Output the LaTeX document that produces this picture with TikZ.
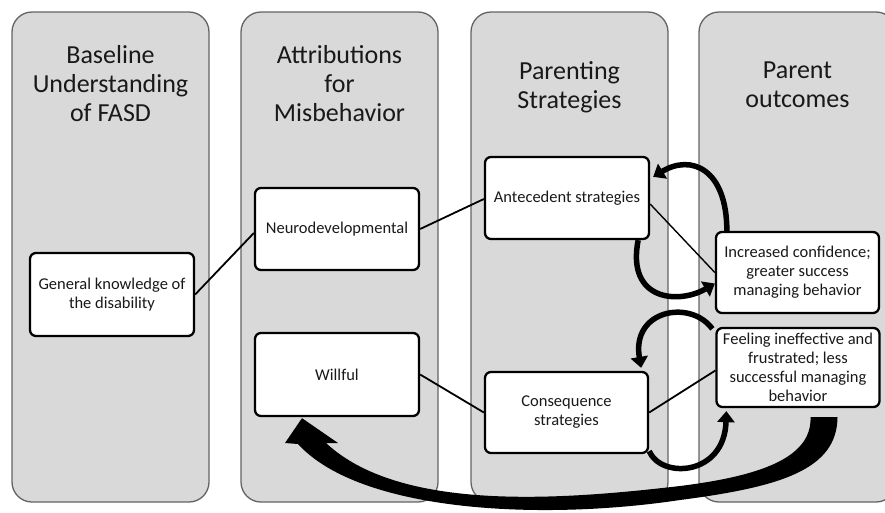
\documentclass[tikz,border=0pt]{standalone}
\usepackage{fontspec}
\setmainfont{Carlito}
\usetikzlibrary{calc,arrows.meta}
\definecolor{panelgray}{RGB}{217,217,217}
\definecolor{paneledge}{RGB}{100,100,100}
\definecolor{inkgray}{RGB}{25,25,25}

\begin{document}
\begin{tikzpicture}[x=1pt,y=-1pt,
  panel/.style={draw=paneledge, line width=1.3pt, fill=panelgray, rounded corners=20pt,
    minimum width=197pt, minimum height=490pt, inner sep=0pt},
  title/.style={font=\fontsize{26}{29}\selectfont, text=inkgray, align=center, inner sep=0pt},
  box/.style={draw=black, line width=2.3pt, fill=white, rounded corners=6pt,
    minimum width=164pt, minimum height=82pt, inner sep=0pt, align=center,
    font=\fontsize{16.5}{19}\selectfont, text=inkgray},
  link/.style={draw=black, line width=1.8pt},
  loop/.style={draw=black, line width=5.5pt, -{Triangle[length=11pt,width=17pt]}},
]
\useasboundingbox (0,0) rectangle (885,512);

% column panels
\node[panel] (p1) at (110.5,257) {};
\node[panel] (p2) at (339.5,257) {};
\node[panel] (p3) at (569.5,257) {};
\node[panel] (p4) at (797.5,257) {};

% column headings
\node[title] (t1) at (110.5,83.2) {Baseline\\Understanding\\of FASD};
\node[title] (t2) at (339.5,83.2) {Attributions\\for\\Misbehavior};
\node[title] (t3) at (569.5,86.8) {Parenting\\Strategies};
\node[title] (t4) at (797.5,85.2) {Parent\\outcomes};

% content boxes
\node[box, minimum height=83pt] (gen) at (112,294.5) {General knowledge of\\the disability};
\node[box] (neuro) at (337,229) {Neurodevelopmental};
\node[box, minimum height=83pt] (will) at (337,374.5) {Willful};
\node[box] (ant) at (567,198) {Antecedent strategies};
\node[box, minimum width=163pt, minimum height=81pt] (cons) at (566.5,412.5) {Consequence\\strategies};
\node[box, minimum width=163pt, minimum height=81pt] (inc) at (797.5,272.5) {Increased confidence;\\greater success\\managing behavior};
\node[box, minimum width=163pt, minimum height=79pt] (feel) at (798,367.5) {Feeling ineffective and\\frustrated; less\\successful managing\\behavior};

% straight links
\draw[link] (gen.east) -- ($(neuro.west)+(0,4)$);
\draw[link] (neuro.east) -- ($(ant.west)+(0,1)$);
\draw[link] (will.east) -- (cons.west);
\draw[link, line width=1.4pt] ($(ant.east)+(0,6)$) -- (inc.west);
\draw[link] (cons.east) -- ($(feel.west)+(0,3)$);

% feedback loops
\draw[loop] ($(inc.north west)+(12,0)$) .. controls +(0,-62) and +(38,-23) .. ($(ant.north east)+(3,21)$);
\draw[loop] ($(ant.south east)+(-12,0)$) .. controls +(-12,61) and +(-36,21) .. ($(inc.west)+(0,11)$);
\draw[loop] ($(feel.north west)+(-3,2)$) .. controls +(-22,-30) and +(-10,-58) .. ($(cons.north east)+(-8,-3)$);
\draw[loop] ($(cons.south east)+(0,-3)$) .. controls +(12,28) and +(-2,65) .. ($(feel.south west)+(11,3)$);

% long return arrow
\fill[black] ($(feel.south)+(39.5,9)$) .. controls (837,470) and (780,487) .. (680,500)
  .. controls (540,521) and (360,512) .. (298,444) -- (285,443) -- ($(will.south)+(-35,1)$)
  -- (338,443) -- (326,443) .. controls (400,512) and (560,500) .. (680,486)
  .. controls (760,476) and (812,458) .. ($(feel.south)+(12.5,9)$) -- cycle;
\end{tikzpicture}
\end{document}
